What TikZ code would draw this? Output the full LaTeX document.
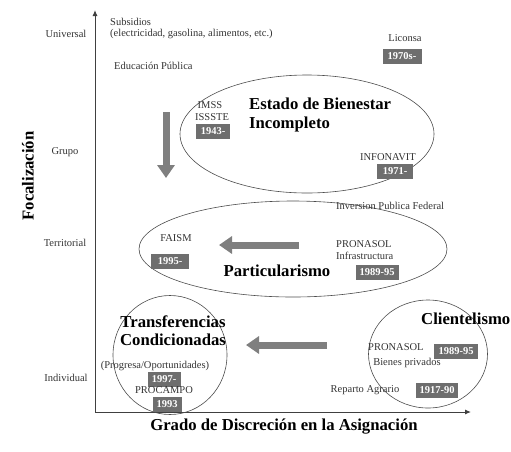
\documentclass[tikz,border=0pt]{standalone}
\usepackage{fontspec}
\setmainfont{Liberation Serif}
\usetikzlibrary{shapes.geometric,arrows.meta}
\definecolor{boxgray}{HTML}{6E6E6E}
\definecolor{arrgray}{HTML}{7F7F7F}
\definecolor{txt}{HTML}{333333}
\tikzset{
  lbl/.style={inner sep=0pt,text=txt,font=\fontsize{10.5}{12}\selectfont},
  yrs/.style={fill=boxgray,text=white,inner sep=0pt,minimum height=15pt,font=\bfseries\fontsize{10.5}{12}\selectfont},
  ttl/.style={inner sep=0pt,text=black,font=\bfseries\fontsize{16.7}{19}\selectfont},
  ring/.style={ellipse,draw=black!70,line width=0.6pt},
  fatarrow/.style={draw=arrgray,line width=7pt,-{Triangle[width=17pt,length=13pt]}},
  axis/.style={draw=black!75,line width=1pt,-{Latex[length=6pt,width=5pt]}}
}
\begin{document}
\begin{tikzpicture}[x=1pt,y=-1pt]
\useasboundingbox (0,0) rectangle (511,451);
% axes
\coordinate (O) at (95,412);
\coordinate (Ytop) at (95,10);
\coordinate (Xend) at (471,412);
\draw[axis] (O) -- (Ytop);
\draw[axis] (O) -- (Xend);
% axis labels
\node[lbl] (uni) at (66,34) {Universal};
\node[lbl] (gru) at (65,152) {Grupo};
\node[lbl] (ter) at (65,243) {Territorial};
\node[lbl] (ind) at (66,378) {Individual};
\node[ttl,rotate=90] (foc) at (28,176) {Focalización};
\node[ttl] (grado) at (284,427) {Grado de Discreción en la Asignación};
% ellipses
\node[ring,minimum width=254pt,minimum height=118pt] (e1) at (307,134) {};
\node[ring,minimum width=308pt,minimum height=96pt] (e2) at (293,249) {};
\node[ring,minimum width=114pt,minimum height=119pt] (e3) at (170,355) {};
\node[ring,minimum width=119pt,minimum height=108pt] (e4) at (428,354) {};
% top texts
\node[lbl,anchor=west] (sub) at (110,22) {Subsidios};
\node[lbl,anchor=west] (elec) at (110,34) {(electricidad, gasolina, alimentos, etc.)};
\node[lbl,anchor=west] (edu) at (114,66) {Educación Pública};
\node[lbl] (lic) at (405,38) {Liconsa};
\node[yrs,minimum width=39pt] (y70) at (402,56) {1970s-};
% Estado de Bienestar
\node[lbl] (imss) at (210,105) {IMSS};
\node[lbl] (isss) at (212,117) {ISSSTE};
\node[yrs,minimum width=34pt] (y43) at (213,131) {1943-};
\node[ttl,anchor=west,align=left] (ebi) at (249,115) {Estado de Bienestar\\Incompleto};
\node[lbl] (info) at (388,157) {INFONAVIT};
\node[yrs,minimum width=36pt] (y71) at (395,171) {1971-};
\node[lbl,anchor=west] (inv) at (336,206) {Inversion Publica Federal};
% Particularismo
\node[lbl] (faism) at (176,238) {FAISM};
\node[yrs,minimum width=38pt] (y95) at (170,261) {1995-};
\node[ttl] (part) at (277,271) {Particularismo};
\node[lbl,anchor=west] (pron1) at (336,244) {PRONASOL};
\node[lbl,anchor=west] (infra) at (336,256) {Infrastructura};
\node[yrs,minimum width=43pt] (y8995a) at (377,272) {1989-95};
% Transferencias
\node[ttl,align=center,font=\bfseries\fontsize{16.7}{18}\selectfont] (trans) at (173,331) {Transferencias\\Condicionadas};
\node[lbl] (prog) at (155,366) {(Progresa/Oportunidades)};
\node[yrs,minimum width=33pt] (y97) at (164,379) {1997-};
\node[lbl] (proc) at (164,390) {PROCAMPO};
\node[yrs,minimum width=29pt] (y93) at (167,404) {1993};
% Clientelismo
\node[ttl,anchor=west] (cli) at (421,319) {Clientelismo};
\node[lbl,anchor=west] (pron2) at (368,347) {PRONASOL};
\node[yrs,minimum width=44pt] (y8995b) at (456,351) {1989-95};
\node[lbl] (bien) at (407,363) {Bienes privados};
\node[lbl] (rep) at (365,390) {Reparto Agrario};
\node[yrs,minimum width=42pt] (y1790) at (437,390) {1917-90};
% fat arrows
\coordinate (a1s) at (166,112);
\coordinate (a1e) at (166,178);
\draw[fatarrow] (a1s) -- (a1e);
\coordinate (a2s) at (299,245);
\coordinate (a2e) at (219,245);
\draw[fatarrow] (a2s) -- (a2e);
\coordinate (a3s) at (327,345);
\coordinate (a3e) at (246,345);
\draw[fatarrow] (a3s) -- (a3e);
\end{tikzpicture}
\end{document}
